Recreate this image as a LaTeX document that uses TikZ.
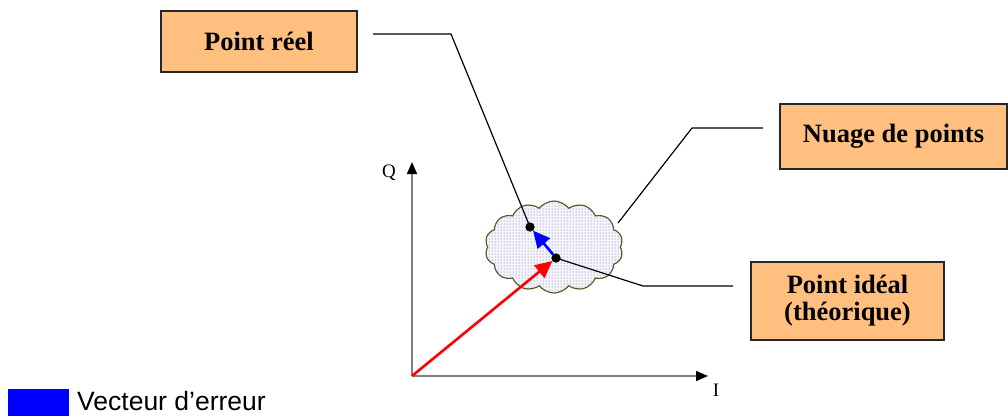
\documentclass[tikz,border=0pt]{standalone}
\usepackage{fontspec}
\setmainfont{Liberation Serif}
\newfontfamily\arialfont{Liberation Sans}
\usepackage{tikz}
\usetikzlibrary{shapes.symbols, arrows.meta, patterns}
\definecolor{boxfill}{RGB}{255,191,127}
\definecolor{cloudline}{RGB}{95,90,45}
\definecolor{axisgray}{RGB}{128,128,128}
\definecolor{errblue}{RGB}{0,0,255}

\begin{document}
\begin{tikzpicture}[x=1pt, y=-1pt,
    bx/.style={rectangle, draw=black!85, line width=1.6pt, fill=boxfill,
        align=center, font=\bfseries\fontsize{26.5}{27}\selectfont},
    lead/.style={black, line width=1.2pt},
    axe/.style={axisgray, line width=1.6pt, -{Triangle[length=12pt, width=10pt, black]}},
    pt/.style={circle, fill=black, inner sep=0pt, minimum size=9pt},
    vec/.style={line width=2.6pt, -{Triangle[length=17pt, width=16pt]}}]
\useasboundingbox (0,0) rectangle (1008,416);
% nuage de points
\node[cloud, cloud puffs=14, cloud puff arc=105, aspect=1.5,
    minimum width=138pt, minimum height=92pt, draw=cloudline, line width=1.2pt,
    fill=blue!4, postaction={pattern=dots, pattern color=black!60}] (nuage) at (554,247) {};
% axes
\coordinate (O) at (412,376);
\coordinate (Qend) at (412,162);
\coordinate (Iend) at (708,376);
\draw[axe] (O) -- (Qend);
\draw[axe] (O) -- (Iend);
\node[font=\fontsize{19}{20}\selectfont] (Q) at (389,173) {Q};
\node[font=\fontsize{19}{20}\selectfont] (I) at (716,390) {I};
% points
\node[pt] (reel) at (530,227) {};
\node[pt] (ideal) at (556,258) {};
% etiquettes
\node[bx, minimum width=196pt, minimum height=61pt] (reelbox) at (259,41.5) {Point réel};
\node[bx, minimum width=227pt, minimum height=65pt] (nuagebox) at (893.5,136.5) {Nuage de points};
\node[bx, minimum width=193pt, minimum height=78pt] (idealbox) at (847.5,301) {Point idéal\\(théorique)};
% lignes de rappel
\coordinate (r0) at (373,34);
\coordinate (r1) at (451,34);
\coordinate (n0) at (618,223);
\coordinate (n1) at (692,128);
\coordinate (n2) at (763,128);
\coordinate (i1) at (643,286);
\coordinate (i2) at (733,286);
\draw[lead] (r0) -- (r1) -- (reel.center);
\draw[lead] (n0) -- (n1) -- (n2);
\draw[lead] (ideal.center) -- (i1) -- (i2);
% vecteurs
\draw[vec, red] (O) -- (ideal);
\draw[vec, errblue] (ideal) -- (reel);
\node[pt] at (reel) {};
\node[pt] at (ideal) {};
% legende
\fill[errblue] (8,389) rectangle (69,416);
\node[anchor=base west, inner sep=0pt, font=\arialfont\fontsize{26.5}{28}\selectfont] (leg) at (77,410) {Vecteur d’erreur};
\end{tikzpicture}
\end{document}
